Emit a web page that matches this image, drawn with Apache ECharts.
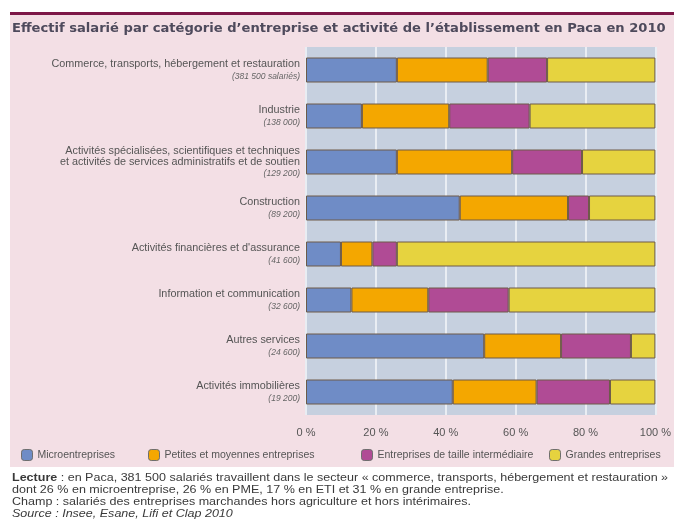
<!DOCTYPE html>
<html>
<head>
<meta charset="utf-8">
<script src="https://cdn.jsdelivr.net/npm/echarts@6/dist/echarts.min.js"></script>
<style>
  html, body { margin: 0; padding: 0; background: #fff; }
  #chart { width: 674px; height: 530px; }
</style>
</head>
<body>
<div id="chart"></div>
<script>
// secteurs d'activité et effectifs
var secteurs = [
  'Commerce, transports, hébergement et restauration',
  'Industrie',
  'Activités spécialisées, scientifiques et techniques\net activités de services administratifs et de soutien',
  'Construction',
  'Activités financières et d\'assurance',
  'Information et communication',
  'Autres services',
  'Activités immobilières'
];
var effectifs = ['381 500 salariés', '138 000', '129 200', '89 200', '41 600', '32 600', '24 600', '19 200'];

// parts en %
var micro = [26, 16, 26, 44, 10, 13, 51, 42];
var pme   = [26, 25, 33, 31, 9, 22, 22, 24];
var eti   = [17, 23, 20, 6, 7, 23, 20, 21];
var ge    = [31, 36, 21, 19, 74, 42, 7, 13];

var xTicks = [0, 20, 40, 60, 80, 100];

var noms = ['Microentreprises', 'Petites et moyennes entreprises', 'Entreprises de taille intermédiaire', 'Grandes entreprises'];
var couleurs = ['#6f8cc6', '#f4a700', '#b04b95', '#e6d33f'];
var series_data = [micro, pme, eti, ge];

var chart = echarts.init(document.getElementById('chart'));

var series = [];
for (var i = 0; i < 4; i++) {
  series.push({
    name: noms[i],
    type: 'bar',
    stack: 'total',
    barWidth: 25,
    data: series_data[i],
    itemStyle: { color: couleurs[i], borderColor: '#6e5a48', borderWidth: 1 }
  });
}

var legendX = [16, 143, 356, 544];
var legends = noms.map(function (n, i) {
  return {
    data: [n],
    left: legendX[i],
    top: 444,
    icon: 'roundRect',
    itemWidth: 11,
    itemHeight: 11,
    itemGap: 5,
    itemStyle: { borderColor: '#6e6e6e', borderWidth: 1 },
    textStyle: { fontFamily: 'Liberation Sans', fontSize: 10.5, color: '#555' },
    selectedMode: false
  };
});

var notes = [
  { t: '{b|Lecture} : en Paca, 381 500 salariés travaillent dans le secteur « commerce, transports, hébergement et restauration »', y: 472 },
  { t: 'dont 26 % en microentreprise, 26 % en PME, 17 % en ETI et 31 % en grande entreprise.', y: 484 },
  { t: 'Champ : salariés des entreprises marchandes hors agriculture et hors intérimaires.', y: 496 },
  { t: '{i|Source : Insee, Esane, Lifi et Clap 2010}', y: 508 }
];

var graphics = [
  { type: 'rect', shape: { x: 10, y: 14, width: 664, height: 453 }, style: { fill: '#f3dfe5' }, z: -10 },
  { type: 'rect', shape: { x: 10, y: 12, width: 664, height: 3 }, style: { fill: '#7d1747' }, z: -9 },
  {
    type: 'text', left: 12, top: 22,
    style: { text: 'Effectif salarié par catégorie d\u2019entreprise et activité de l\u2019établissement en Paca en 2010',
      font: 'bold 13.1px "DejaVu Sans"', fill: '#4e4a5c' }
  }
];
notes.forEach(function (n) {
  graphics.push({
    type: 'text', x: 12, y: n.y, scaleX: 1.12,
    style: {
      text: n.t, fontFamily: 'Liberation Sans', fontSize: 11.2, fill: '#3a3a3a',
      rich: {
        b: { fontWeight: 'bold', fontFamily: 'Liberation Sans', fontSize: 11.2, fill: '#3a3a3a' },
        i: { fontStyle: 'italic', fontFamily: 'Liberation Sans', fontSize: 11.2, fill: '#3a3a3a' }
      }
    }
  });
});

chart.setOption({
  animation: false,
  backgroundColor: '#fff',
  grid: {
    left: 306, right: 17, top: 47, bottom: 115,
    show: true, backgroundColor: '#c6d0df', borderWidth: 0
  },
  legend: legends,
  xAxis: {
    type: 'value',
    min: 0, max: 100, interval: 20,
    axisLine: { show: false },
    axisTick: { show: false },
    splitLine: { lineStyle: { color: '#e9edf3', width: 2 } },
    axisLabel: {
      formatter: function (v) { return xTicks.indexOf(v) >= 0 ? v + ' %' : ''; },
      fontFamily: 'Liberation Sans', fontSize: 11, color: '#555', margin: 12
    }
  },
  yAxis: {
    type: 'category',
    inverse: true,
    data: secteurs,
    axisLine: { show: false },
    axisTick: { show: false },
    axisLabel: {
      margin: 6,
      formatter: function (v, idx) {
        var lignes = v.split('\n').map(function (l) { return '{n|' + l + '}'; });
        return lignes.join('\n') + '\n{c|(' + effectifs[idx] + ')}';
      },
      rich: {
        n: { fontFamily: 'Liberation Sans', fontSize: 10.8, color: '#555', lineHeight: 11, align: 'right', padding: [2, 0, 0, 0] },
        c: { fontFamily: 'Liberation Sans', fontSize: 8.5, fontStyle: 'italic', color: '#666', lineHeight: 13, align: 'right', padding: [2, 0, 0, 0] }
      }
    }
  },
  series: series,
  graphic: graphics
});
</script>
</body>
</html>
